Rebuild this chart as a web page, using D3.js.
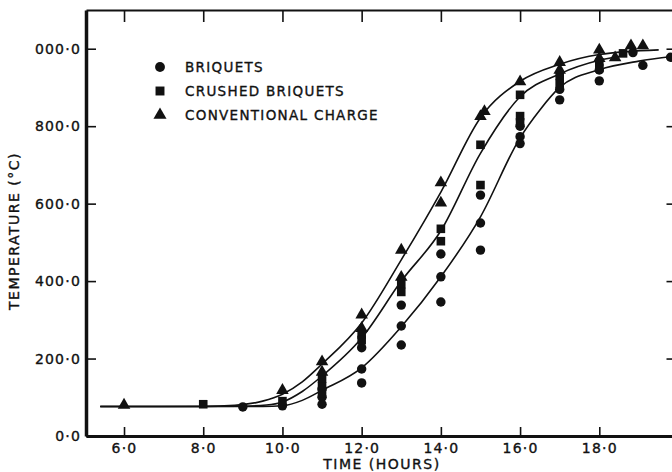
<!DOCTYPE html>
<html>
<head>
<meta charset="utf-8">
<script src="https://cdn.jsdelivr.net/npm/d3@7"></script>
<style>
  body { margin: 0; background: #fff; }
  text { font-family: "DejaVu Sans", sans-serif; fill: #111; stroke: #111; stroke-width: 0.35px; }
</style>
</head>
<body>
<svg id="chart" width="672" height="472"></svg>
<script>
// Axis ticks and their printed labels
const xTicks = [6, 8, 10, 12, 14, 16, 18];
const xTickLabels = ["6·0", "8·0", "10·0", "12·0", "14·0", "16·0", "18·0"];
const yTicks = [0, 200, 400, 600, 800, 1000];
const yTickLabels = ["0·0", "200·0", "400·0", "600·0", "800·0", "000·0"];

// Series names for the legend
const seriesNames = ["BRIQUETS", "CRUSHED BRIQUETS", "CONVENTIONAL CHARGE"];

// Measured temperatures: [time (hours), temperature (°C)]
const briquets = [
  [9.0, 75], [10.0, 78], [11.0, 122], [11.0, 100], [11.0, 82],
  [12.0, 228], [12.0, 173], [12.0, 137],
  [13.0, 338], [13.0, 284], [13.0, 235],
  [14.0, 470], [14.0, 411], [14.0, 346],
  [15.0, 622], [15.0, 550], [15.0, 480],
  [16.0, 800], [16.0, 773], [16.0, 755],
  [17.0, 895], [17.0, 868],
  [18.0, 945], [18.0, 917],
  [18.85, 990], [19.1, 957], [19.8, 978]
];
const crushedBriquets = [
  [8.0, 82], [10.0, 90], [11.0, 148], [11.0, 128], [11.0, 110],
  [12.0, 262], [12.0, 248],
  [13.0, 392], [13.0, 372],
  [14.0, 535], [14.0, 503],
  [15.0, 752], [15.0, 648],
  [16.0, 881], [16.0, 826], [16.0, 810],
  [17.0, 930], [17.0, 910],
  [18.0, 965], [18.0, 950],
  [18.6, 988]
];
const conventionalCharge = [
  [6.0, 80], [10.0, 118], [11.0, 192], [11.0, 165],
  [12.0, 313], [12.0, 278],
  [13.0, 480], [13.0, 410],
  [14.0, 654], [14.0, 602],
  [15.0, 825], [15.1, 838],
  [16.0, 915],
  [17.0, 965], [17.0, 945],
  [18.0, 997], [18.0, 975],
  [18.4, 977], [18.8, 1008], [19.1, 1008]
];

// Hand-drawn smoothed curves through each set
const briquetsCurve = [
  [5.4, 76], [9.5, 76], [10.0, 78], [10.5, 92], [11.0, 118], [12.0, 176],
  [13.0, 282], [14.0, 411], [15.0, 566], [16.0, 770], [16.5, 842],
  [17.0, 900], [18.0, 946], [19.0, 968], [19.85, 980]
];
const crushedCurve = [
  [5.4, 76], [9.0, 77], [9.6, 80], [10.0, 88], [10.5, 115], [11.0, 155],
  [12.0, 253], [13.0, 400], [14.0, 530], [15.0, 730], [16.0, 876],
  [17.0, 935], [18.0, 970], [18.6, 982]
];
const conventionalCurve = [
  [5.4, 76], [8.0, 76], [8.8, 79], [9.5, 90], [10.0, 108], [10.5, 140],
  [11.0, 186], [12.0, 292], [13.0, 455], [14.0, 630], [15.0, 822],
  [16.0, 916], [17.0, 960], [18.0, 985], [19.5, 997]
];

const svg = d3.select("#chart");
const x = d3.scaleLinear().domain([5.04, 20]).range([86, 678.5]);
const y = d3.scaleLinear().domain([0, 1100]).range([436, 10]);

// Frame: bottom, left, top and right axes with inward ticks
const gB = svg.append("g").attr("transform", `translate(0,${y(0)})`)
  .call(d3.axisBottom(x).tickValues(xTicks).tickSize(-9).tickSizeOuter(0)
    .tickPadding(7).tickFormat((d, i) => xTickLabels[i]));
const gL = svg.append("g").attr("transform", `translate(${x.range()[0]},0)`)
  .call(d3.axisLeft(y).tickValues(yTicks).tickSize(-10).tickSizeOuter(0)
    .tickPadding(5).tickFormat((d, i) => yTickLabels[i]));
const gT = svg.append("g").attr("transform", `translate(0,${y(1100)})`)
  .call(d3.axisTop(x).tickValues(xTicks.concat([20])).tickSize(-12).tickSizeOuter(0).tickFormat(""));
const gR = svg.append("g").attr("transform", `translate(${x(20)},0)`)
  .call(d3.axisRight(y).tickValues(yTicks).tickSize(-12).tickSizeOuter(0).tickFormat(""));

[gB, gL, gT, gR].forEach(g => {
  g.select(".domain").attr("stroke", "#111");
  g.selectAll(".tick line").attr("stroke", "#111").attr("stroke-width", 1.6);
  g.selectAll(".tick text")
    .style("font-family", "'DejaVu Sans', sans-serif")
    .style("font-size", "14px")
    .style("letter-spacing", "1.2px")
    .attr("fill", "#111");
});
gB.select(".domain").attr("stroke-width", 3);
gL.select(".domain").attr("stroke-width", 3.5);
gT.select(".domain").attr("stroke-width", 2);
gR.select(".domain").attr("stroke-width", 2);

// Fitted curves
const line = d3.line().x(d => x(d[0])).y(d => y(d[1])).curve(d3.curveMonotoneX);
[briquetsCurve, crushedCurve, conventionalCurve].forEach(c => {
  svg.append("path").datum(c)
    .attr("d", line)
    .attr("fill", "none")
    .attr("stroke", "#111")
    .attr("stroke-width", 1.6);
});

// Data markers
const shapes = [
  { data: briquets, type: d3.symbolCircle, size: 70 },
  { data: crushedBriquets, type: d3.symbolSquare, size: 74 },
  { data: conventionalCharge, type: d3.symbolTriangle, size: 68 }
];
shapes.forEach(s => {
  svg.append("g").selectAll("path").data(s.data).join("path")
    .attr("transform", d => `translate(${x(d[0])},${y(d[1])})`)
    .attr("d", d3.symbol().type(s.type).size(s.size))
    .attr("fill", "#111");
});

// Legend
const legend = svg.append("g");
shapes.forEach((s, i) => {
  const ly = 67 + i * 24;
  legend.append("path")
    .attr("transform", `translate(160,${ly})`)
    .attr("d", d3.symbol().type(s.type).size(s.size + 6))
    .attr("fill", "#111");
  legend.append("text")
    .attr("x", 185).attr("y", ly + 5)
    .style("font-size", "13.5px")
    .style("letter-spacing", "1.3px")
    .text(seriesNames[i]);
});

// Axis titles
svg.append("text")
  .attr("x", 382).attr("y", 469)
  .attr("text-anchor", "middle")
  .style("font-size", "14px")
  .style("letter-spacing", "1.5px")
  .text("TIME (HOURS)");
svg.append("text")
  .attr("transform", "translate(19,231) rotate(-90)")
  .attr("text-anchor", "middle")
  .style("font-size", "14px")
  .style("letter-spacing", "1.5px")
  .text("TEMPERATURE (°C)");
</script>
</body>
</html>
